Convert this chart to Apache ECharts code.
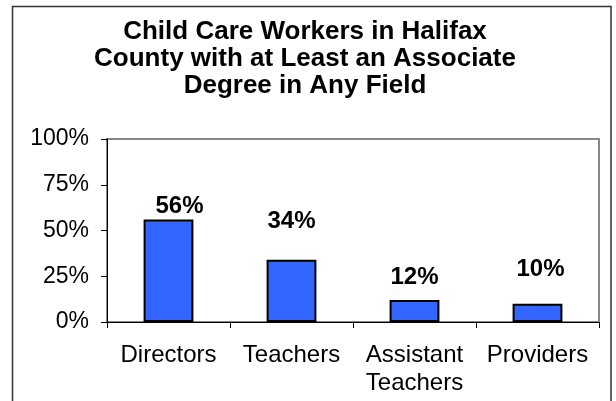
<!DOCTYPE html>
<html>
<head>
<meta charset="utf-8">
<script src="https://cdn.jsdelivr.net/npm/echarts@6/dist/echarts.min.js"></script>
<style>
html,body{margin:0;padding:0;background:#fff;}
#chart{width:616px;height:401px;}
</style>
</head>
<body>
<div id="chart"></div>
<script>
const titleText = 'Child Care Workers in Halifax\nCounty with at Least an Associate\nDegree in Any Field';
const categories = ['Directors', 'Teachers', 'Assistant\nTeachers', 'Providers'];
const values = [56, 34, 12, 10];
const yTicks = [0, 25, 50, 75, 100];

const chart = echarts.init(document.getElementById('chart'), null, {renderer: 'canvas'});

// label placement tweaks (style only) to mimic the original layout
const labelOffsets = [[11, -1], [0, -26], [0, -11], [3, -22]];

const option = {
  backgroundColor: '#ffffff',
  animation: false,
  title: {
    text: titleText,
    left: 300,
    top: 13,
    textAlign: 'center',
    textStyle: {
      fontFamily: 'Liberation Sans, Arial, sans-serif',
      fontSize: 26,
      fontWeight: 'bold',
      color: '#000',
      lineHeight: 27
    }
  },
  graphic: [{
    type: 'rect',
    shape: {x: 12.5, y: 6.5, width: 598.5, height: 430},
    style: {fill: 'none', stroke: '#333', lineWidth: 1.5},
    silent: true,
    z: 100
  }],
  grid: {
    left: 107, right: 17, top: 139, bottom: 79,
    show: true,
    borderColor: '#888',
    borderWidth: 2,
    backgroundColor: 'transparent'
  },
  xAxis: {
    type: 'category',
    data: categories,
    axisLine: {lineStyle: {color: '#000', width: 1}},
    axisTick: {show: true, inside: false, length: 6, alignWithLabel: false, lineStyle: {color: '#000'}},
    axisLabel: {
      color: '#000',
      fontFamily: 'Liberation Sans, Arial, sans-serif',
      fontSize: 24,
      lineHeight: 28,
      margin: 19,
      interval: 0
    }
  },
  yAxis: {
    type: 'value',
    min: yTicks[0],
    max: yTicks[yTicks.length - 1],
    interval: 25,
    axisLine: {show: true, lineStyle: {color: '#000', width: 1}},
    axisTick: {show: true, inside: false, length: 6, lineStyle: {color: '#000'}},
    splitLine: {show: false},
    axisLabel: {
      color: '#000',
      fontFamily: 'Liberation Sans, Arial, sans-serif',
      fontSize: 23,
      margin: 18,
      formatter: v => v + '%'
    }
  },
  series: [{
    type: 'bar',
    barWidth: '40.5%',
    data: values.map((v, i) => ({
      value: v,
      label: {offset: labelOffsets[i]}
    })),
    itemStyle: {color: '#3366FF', borderColor: '#000', borderWidth: 2},
    label: {
      show: true,
      position: 'top',
      distance: 0,
      formatter: p => p.value + '%',
      color: '#000',
      fontFamily: 'Liberation Sans, Arial, sans-serif',
      fontSize: 24,
      fontWeight: 'bold'
    }
  }]
};
chart.setOption(option);
</script>
</body>
</html>
